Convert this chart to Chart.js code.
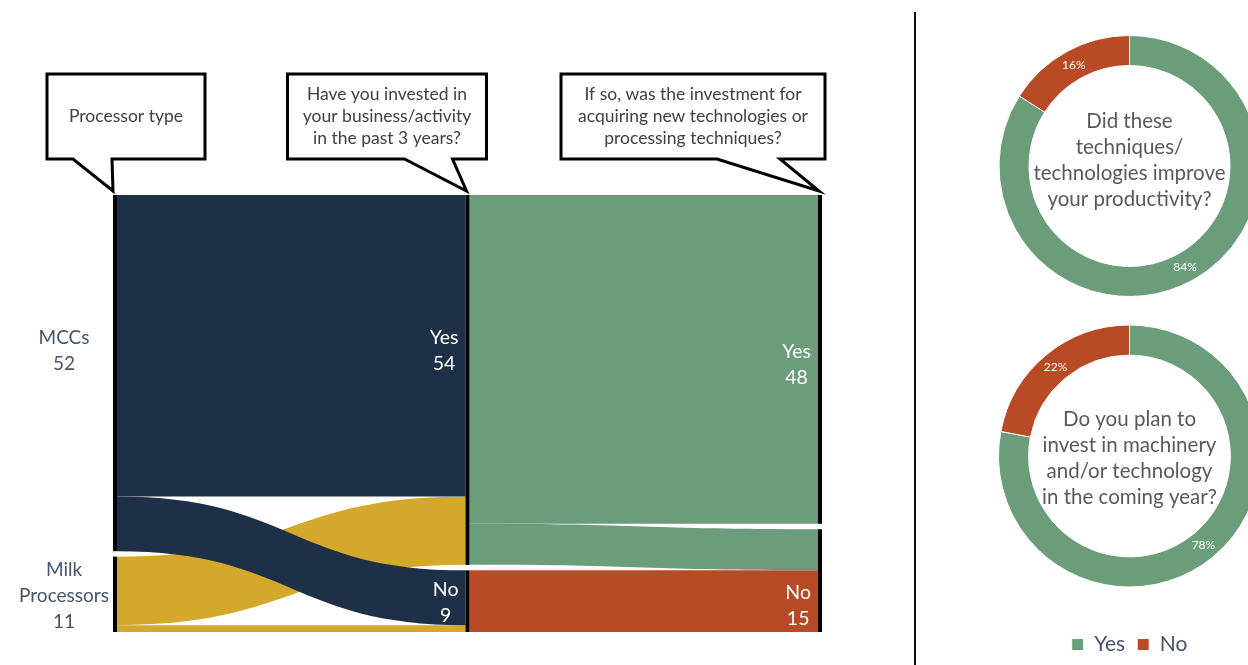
<!DOCTYPE html>
<html>
<head>
<meta charset="utf-8">
<script src="https://cdn.jsdelivr.net/npm/chart.js@4.4.0/dist/chart.umd.min.js"></script>
<style>
  html, body { margin: 0; padding: 0; background: #fff; overflow: hidden; }
  body { width: 1248px; height: 665px; position: relative; }
  .box { position: absolute; }
  #divider { position: absolute; left: 914px; top: 12px; width: 2px; height: 653px; background: #111; }
</style>
</head>
<body>
<div class="box" style="left:0;top:0;width:910px;height:665px"><canvas id="sankey"></canvas></div>
<div id="divider"></div>
<div class="box" style="left:990px;top:20px;width:278px;height:290px"><canvas id="donut1"></canvas></div>
<div class="box" style="left:990px;top:280px;width:278px;height:385px"><canvas id="donut2"></canvas></div>
<script>
// --- sankey data ---
const nodeNames = [['MCCs'], ['Milk', 'Processors'], ['Yes'], ['No'], ['Yes'], ['No']];
const nodeColumn = [0, 0, 1, 1, 2, 2];
const flowFrom = [0, 0, 1, 1, 2, 2, 3];
const flowTo = [2, 3, 2, 3, 4, 5, 5];
const flowValue = [44, 8, 10, 1, 48, 6, 9];

// callout questions above each column
const columnQuestions = [
  ['Processor type'],
  ['Have you invested in', 'your business/activity', 'in the past 3 years?'],
  ['If so, was the investment for', 'acquiring new technologies or', 'processing techniques?']
];

// --- doughnut data ---
const answerLabels = ['Yes', 'No'];
const productivityShares = [84, 16];
const investPlanShares = [78, 22];
const productivityQuestion = ['Did these', 'techniques/', 'technologies improve', 'your productivity?'];
const investPlanQuestion = ['Do you plan to', 'invest in machinery', 'and/or technology', 'in the coming year?'];

// colours
const NAVY = '#1e3047';
const GOLD = '#d4a82b';
const GREEN = '#6c9d7a';
const RED = '#b84a26';
const nodeColors = [NAVY, GOLD, GREEN, RED, GREEN, RED];
const FONT = 'Lato, "Open Sans", sans-serif';

Chart.defaults.font.family = FONT;

// node gap in value units
const NODE_GAP = 0.8;
const NODE_W = 4;

// node totals and stacked positions
const nodeTotal = nodeNames.map((n, i) => {
  let inSum = 0, outSum = 0;
  flowValue.forEach((v, f) => {
    if (flowTo[f] === i) inSum += v;
    if (flowFrom[f] === i) outSum += v;
  });
  return Math.max(inSum, outSum);
});
const nodeStart = [];
[0, 1, 2].forEach(col => {
  let y = 0;
  nodeNames.forEach((n, i) => {
    if (nodeColumn[i] !== col) return;
    nodeStart[i] = y;
    y += nodeTotal[i] + NODE_GAP;
  });
});
const yMax = Math.max(...nodeStart.map((s, i) => s + nodeTotal[i]));

// flow positions (value units) at source and target side
const outUsed = nodeNames.map(() => 0);
const inUsed = nodeNames.map(() => 0);
const flowSrcY = [], flowTgtY = [];
flowValue.forEach((v, f) => {
  flowSrcY[f] = nodeStart[flowFrom[f]] + outUsed[flowFrom[f]];
  outUsed[flowFrom[f]] += v;
  flowTgtY[f] = nodeStart[flowTo[f]] + inUsed[flowTo[f]];
  inUsed[flowTo[f]] += v;
});

const sankeyPlugin = {
  id: 'sankeyDraw',
  afterDatasetsDraw(chart) {
    const ctx = chart.ctx;
    const xs = chart.scales.x, ys = chart.scales.y;
    ctx.save();
    // flows (reverse order so MCC flows lie on top)
    for (let f = flowValue.length - 1; f >= 0; f--) {
      const x0 = xs.getPixelForValue(nodeColumn[flowFrom[f]]);
      const x1 = xs.getPixelForValue(nodeColumn[flowTo[f]]) - NODE_W;
      const a0 = ys.getPixelForValue(flowSrcY[f]);
      const b0 = ys.getPixelForValue(flowSrcY[f] + flowValue[f]);
      const a1 = ys.getPixelForValue(flowTgtY[f]);
      const b1 = ys.getPixelForValue(flowTgtY[f] + flowValue[f]);
      const xm = (x0 + x1) / 2;
      ctx.beginPath();
      ctx.moveTo(x0, a0);
      ctx.bezierCurveTo(xm, a0, xm, a1, x1, a1);
      ctx.lineTo(x1, b1);
      ctx.bezierCurveTo(xm, b1, xm, b0, x0, b0);
      ctx.closePath();
      ctx.fillStyle = nodeColors[flowFrom[f]];
      ctx.fill();
    }
    // nodes
    nodeNames.forEach((n, i) => {
      const x = xs.getPixelForValue(nodeColumn[i]);
      const top = ys.getPixelForValue(nodeStart[i]);
      const bot = ys.getPixelForValue(nodeStart[i] + nodeTotal[i]);
      ctx.fillStyle = '#000';
      ctx.fillRect(x - NODE_W, top, NODE_W, bot - top);
    });
    // labels, centred on the node's biggest flow (outgoing for first column, incoming otherwise)
    ctx.textBaseline = 'middle';
    ctx.textAlign = 'center';
    nodeNames.forEach((n, i) => {
      const first = nodeColumn[i] === 0;
      let best = -1;
      flowValue.forEach((v, f) => {
        const attached = first ? flowFrom[f] === i : flowTo[f] === i;
        if (attached && (best < 0 || v > flowValue[best])) best = f;
      });
      const y0 = first ? flowSrcY[best] : flowTgtY[best];
      const cy = ys.getPixelForValue(y0 + flowValue[best] / 2) + 5;
      const lines = n.concat([String(nodeTotal[i])]);
      const lh = 26;
      const nodeLeft = xs.getPixelForValue(nodeColumn[i]) - NODE_W;
      let cx;
      if (first) {
        ctx.font = '19px ' + FONT;
        ctx.fillStyle = '#44546a';
        cx = nodeLeft - 49;
      } else {
        ctx.font = '19.5px ' + FONT;
        ctx.fillStyle = '#ffffff';
        const w = Math.max(...lines.map(l => ctx.measureText(l).width));
        cx = nodeLeft - 7 - w / 2;
      }
      lines.forEach((l, k) => {
        ctx.fillText(l, cx, cy + (k - (lines.length - 1) / 2) * lh);
      });
    });
    ctx.restore();
  }
};

// speech-bubble callouts; geometry relative to the column's node top
const calloutBoxes = [
  { left: -66, right: 92, baseL: -40, baseR: -1 },
  { left: -179, right: 20, baseL: -62, baseR: -14 },
  { left: -258, right: 6, baseL: -102, baseR: -39 }
];
const calloutPlugin = {
  id: 'callouts',
  afterDraw(chart) {
    const ctx = chart.ctx;
    const xs = chart.scales.x, ys = chart.scales.y;
    ctx.save();
    columnQuestions.forEach((q, c) => {
      const g = calloutBoxes[c];
      const tx = xs.getPixelForValue(c) - NODE_W / 2 - (c === 0 ? 2 : 1);
      const ty = ys.getPixelForValue(0) - 4;
      const top = ty - 117, bot = ty - 32;
      ctx.beginPath();
      ctx.moveTo(tx + g.left, top);
      ctx.lineTo(tx + g.right, top);
      ctx.lineTo(tx + g.right, bot);
      ctx.lineTo(tx + g.baseR, bot);
      ctx.lineTo(tx, ty);
      ctx.lineTo(tx + g.baseL, bot);
      ctx.lineTo(tx + g.left, bot);
      ctx.closePath();
      ctx.fillStyle = '#fff';
      ctx.fill();
      ctx.lineWidth = 3;
      ctx.lineJoin = 'miter';
      ctx.strokeStyle = '#000';
      ctx.stroke();
      ctx.fillStyle = '#404040';
      ctx.font = '17.5px ' + FONT;
      ctx.textAlign = 'center';
      ctx.textBaseline = 'middle';
      const cx = tx + (g.left + g.right) / 2;
      const cy = (top + bot) / 2;
      q.forEach((l, k) => ctx.fillText(l, cx, cy + (k - (q.length - 1) / 2) * 22));
    });
    ctx.restore();
  }
};

new Chart(document.getElementById('sankey'), {
  type: 'scatter',
  data: { datasets: [] },
  options: {
    responsive: true,
    maintainAspectRatio: false,
    animation: false,
    layout: { padding: { left: 117, right: 88, top: 195, bottom: 33 } },
    plugins: { legend: { display: false }, tooltip: { enabled: false } },
    scales: {
      x: { type: 'linear', min: 0, max: 2, display: false },
      y: { type: 'linear', min: 0, max: yMax, reverse: true, display: false }
    }
  },
  plugins: [sankeyPlugin, calloutPlugin]
});

// doughnut helpers
function donutTextPlugin(question, textShift) {
  return {
    id: 'donutText',
    afterDatasetsDraw(chart) {
      const ctx = chart.ctx;
      const meta = chart.getDatasetMeta(0);
      ctx.save();
      ctx.textAlign = 'center';
      ctx.textBaseline = 'middle';
      ctx.fillStyle = '#fff';
      ctx.font = '12px ' + FONT;
      meta.data.forEach((arc, i) => {
        const p = arc.tooltipPosition();
        ctx.fillText(chart.data.datasets[0].data[i] + '%', p.x, p.y);
      });
      const cx = meta.data[0].x, cy = meta.data[0].y + textShift;
      ctx.fillStyle = '#595959';
      ctx.font = '20.5px ' + FONT;
      question.forEach((l, k) => ctx.fillText(l, cx, cy + (k - (question.length - 1) / 2) * 26));
      ctx.restore();
    }
  };
}

function makeDonut(id, shares, question, textShift, showLegend, padding) {
  return new Chart(document.getElementById(id), {
    type: 'doughnut',
    data: {
      labels: answerLabels,
      datasets: [{
        data: shares,
        backgroundColor: [GREEN, RED],
        borderColor: '#fff',
        borderWidth: 1,
        hoverOffset: 0
      }]
    },
    options: {
      responsive: true,
      maintainAspectRatio: false,
      animation: false,
      cutout: '77%',
      layout: { padding: padding },
      plugins: {
        tooltip: { enabled: false },
        legend: {
          display: showLegend,
          position: 'bottom',
          labels: {
            boxWidth: 12,
            boxHeight: 12,
            padding: 12,
            color: '#44546a',
            font: { size: 21, family: FONT }
          }
        }
      }
    },
    plugins: [donutTextPlugin(question, textShift)]
  });
}

makeDonut('donut1', productivityShares, productivityQuestion, -6, false, { left: 8, right: 7, top: 15, bottom: 13 });
makeDonut('donut2', investPlanShares, investPlanQuestion, 2, true, { left: 8, right: 7, top: 10, bottom: 0 });
</script>
</body>
</html>
